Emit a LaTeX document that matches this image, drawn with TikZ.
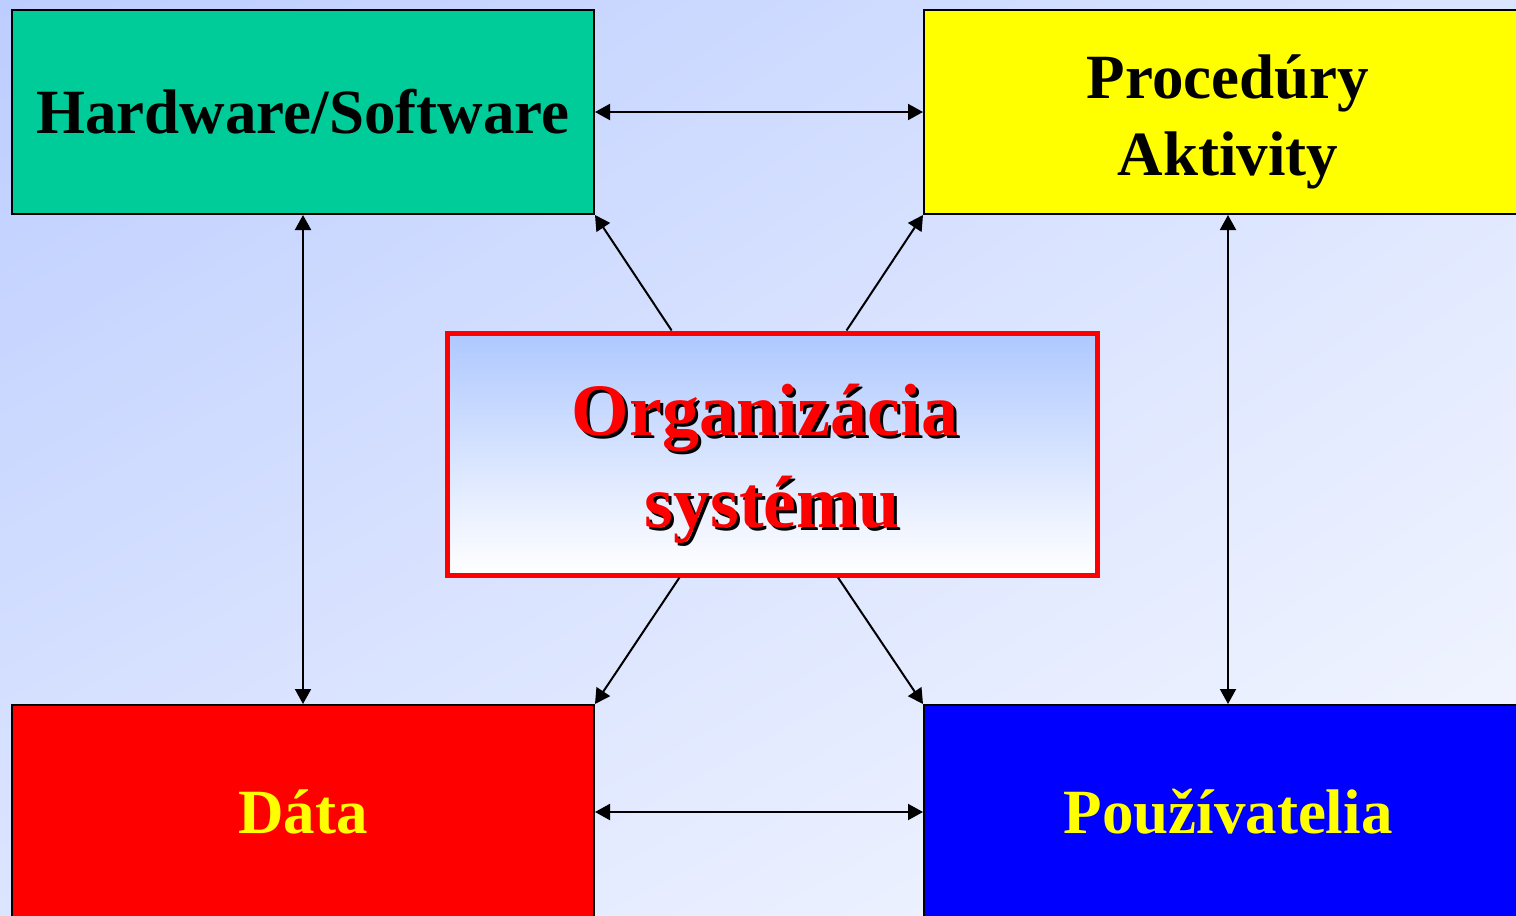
\documentclass[tikz,border=0pt]{standalone}
\usepackage{fontspec}
\setmainfont{Liberation Serif}
\usetikzlibrary{arrows.meta,calc,shadings}
\definecolor{bgTL}{HTML}{BCCDFF}
\definecolor{bgBR}{HTML}{F6F8FF}
\definecolor{bgMid}{HTML}{DCE5FF}
\definecolor{hwcol}{HTML}{00CC99}
\definecolor{cenTop}{HTML}{AEC8FF}
\definecolor{yel}{RGB}{255,255,0}
\definecolor{rd}{RGB}{255,0,0}
\definecolor{bl}{RGB}{0,0,255}
\tikzset{
  box/.style={draw=black, line width=1pt, rectangle, inner sep=0pt, font=\bfseries\fontsize{31.5}{38.5}\selectfont, align=center},
  boxtext/.style={font=\bfseries\fontsize{31.5}{38.5}\selectfont, align=center, inner sep=0pt},
  link/.style={line width=1pt, {Triangle[length=7.5pt,width=8pt]}-{Triangle[length=7.5pt,width=8pt]}},
  onelink/.style={line width=1pt, -{Triangle[length=7.5pt,width=8pt]}},
  bigtext/.style={font=\bfseries\fontsize{37}{46}\selectfont, align=center, inner sep=0pt}
}
\begin{document}
\begin{tikzpicture}[x=0.5pt,y=-0.5pt]
\useasboundingbox (0,0) rectangle (1516,916);
\clip (0,0) rectangle (1516,916);
\shade[upper left=bgTL, lower right=bgBR, upper right=bgMid, lower left=bgMid] (0,0) rectangle (1516,916);

\node[box, fill=hwcol, minimum width=291pt, minimum height=102pt] (hw) at (303,112) {Hardware/Software};
\node[box, fill=yel, minimum width=304pt, minimum height=102pt] (proc) at (1228,112) {};
\node[boxtext] (proct) at ($(proc.center)+(0,10)$) {Procedúry\\Aktivity};
\node[box, fill=rd, text=yel, minimum width=291pt, minimum height=107pt] (data) at (303,812) {Dáta};
\node[box, fill=bl, text=yel, minimum width=304pt, minimum height=107pt] (user) at (1228,812) {Používatelia};

\node[rectangle, draw=rd, line width=2.5pt, top color=cenTop, bottom color=white, minimum width=325pt, minimum height=121pt, inner sep=0pt] (c) at (772.5,454) {};
\node[bigtext, text=black] (cs) at (768,467) {Organizácia\\\hspace*{7pt}systému};
\node[bigtext, text=rd] (ct) at (765,464) {Organizácia\\\hspace*{7pt}systému};

\draw[link] (hw.east) -- (proc.west);
\draw[link] (data.east) -- (user.west);
\draw[link] (hw.south) -- (data.north);
\draw[link] (proc.south) -- (user.north);

\coordinate (c1) at ($(c.north west)!0.346!(c.north east)$);
\coordinate (c2) at ($(c.north west)!0.613!(c.north east)$);
\coordinate (c3) at ($(c.south west)!0.358!(c.south east)$);
\coordinate (c4) at ($(c.south west)!0.60!(c.south east)$);
\draw[onelink] (c1) -- (hw.south east);
\draw[onelink] (c2) -- (proc.south west);
\draw[onelink] (c3) -- (data.north east);
\draw[onelink] (c4) -- (user.north west);
\end{tikzpicture}
\end{document}
